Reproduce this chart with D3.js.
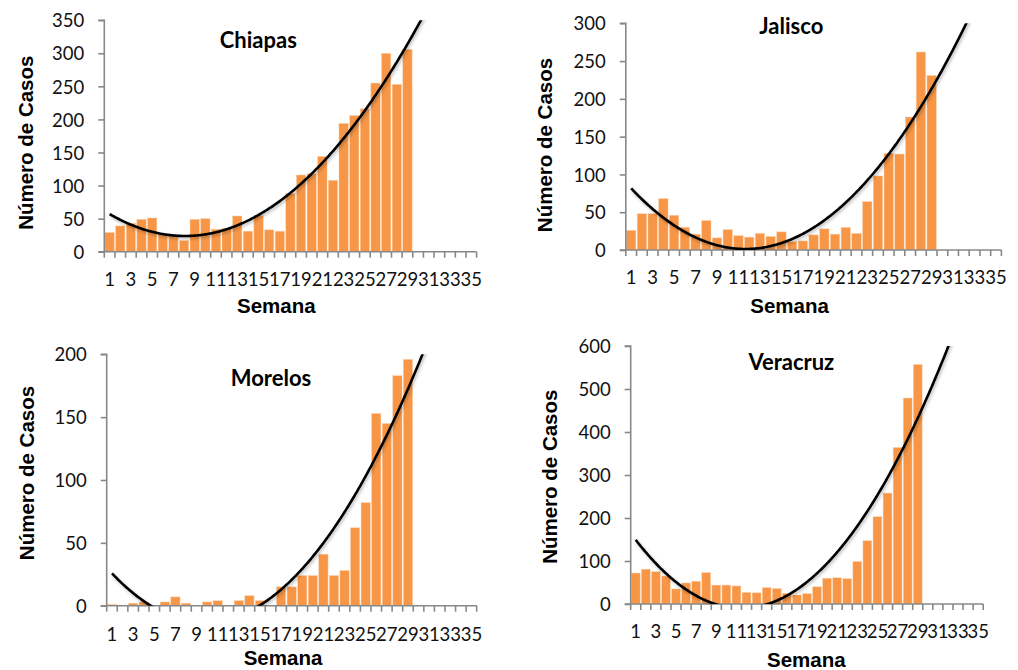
<!DOCTYPE html>
<html><head><meta charset="utf-8">
<script src="https://cdn.jsdelivr.net/npm/d3@7"></script>
<style>body{margin:0;background:#fff}svg{display:block}</style>
</head><body><svg id="c" width="1018" height="670"></svg>
<script>
// ---- data ----
const weeks = [1,2,3,4,5,6,7,8,9,10,11,12,13,14,15,16,17,18,19,20,21,22,23,24,25,26,27,28,29,30,31,32,33,34,35];
const weekLabels = [1,3,5,7,9,11,13,15,17,19,21,23,25,27,29,31,33,35];
const chiapas  = [29,39,43,49,51,26,25,17,49,50,34,35,54,31,55,33,31,88,116,118,144,108,194,206,216,255,300,253,306];
const jalisco  = [26,48,48,68,46,30,21,39,16,27,19,17,22,18,24,11,12,20,28,21,30,22,64,98,128,127,176,262,231];
const morelos  = [1,0,2,3,0,3,7,2,0,3,4,0,4,8,4,0,15,15,24,24,41,24,28,62,82,153,145,183,196];
const veracruz = [72,81,75,65,35,49,53,73,44,44,42,27,26,38,36,25,21,24,40,60,61,59,99,147,203,258,364,479,557];
const chiapasTicks  = [0,50,100,150,200,250,300,350];
const jaliscoTicks  = [0,50,100,150,200,250,300];
const morelosTicks  = [0,50,100,150,200];
const veracruzTicks = [0,100,200,300,400,500,600];
const titles = ["Chiapas","Jalisco","Morelos","Veracruz"];
const yTitle = "Número de Casos";
const xTitle = "Semana";

// ---- layout ----
const layout = [
  {values:chiapas, ticks:chiapasTicks, x0:104.3, x1:476.6, yT:20.2, yB:251.7, tX:258.3, tY:48.3, ylX:33, ylY:142.7, sX:276.3, sY:313, lY:286},
  {values:jalisco, ticks:jaliscoTicks, x0:625.8, x1:1001.4, yT:23.3, yB:250, tX:791.3, tY:34.3, ylX:551.5, ylY:145, sX:789.6, sY:313.3, lY:284},
  {values:morelos, ticks:morelosTicks, x0:106.7, x1:476.7, yT:354.3, yB:605.7, tX:271, tY:385.7, ylX:34, ylY:473, sX:283, sY:665, lY:640.7},
  {values:veracruz, ticks:veracruzTicks, x0:630.7, x1:983.2, yT:346, yB:604, tX:791.3, tY:370, ylX:557, ylY:476.7, sX:806.3, sY:666.7, lY:638.3}
];

const svg = d3.select("#c");
const defs = svg.append("defs");
const f = defs.append("filter").attr("id","sh").attr("x","-10%").attr("y","-10%").attr("width","130%").attr("height","130%");
f.append("feDropShadow").attr("dx",1.2).attr("dy",1.8).attr("stdDeviation",1.4).attr("flood-color","#000").attr("flood-opacity",0.28);

function quadFit(ys){
  // least squares y = a + b x + c x^2, x = week number
  const n = ys.length; let S=[0,0,0,0,0], T=[0,0,0];
  ys.forEach((y,i)=>{const x=i+1; let p=1; for(let k=0;k<5;k++){S[k]+=p; if(k<3)T[k]+=y*p; p*=x;}});
  const M=[[S[0],S[1],S[2],T[0]],[S[1],S[2],S[3],T[1]],[S[2],S[3],S[4],T[2]]];
  for(let i=0;i<3;i++){let m=i;for(let r=i+1;r<3;r++)if(Math.abs(M[r][i])>Math.abs(M[m][i]))m=r;[M[i],M[m]]=[M[m],M[i]];
    for(let r=0;r<3;r++){if(r===i)continue;const fct=M[r][i]/M[i][i];for(let c=i;c<4;c++)M[r][c]-=fct*M[i][c];}}
  return [M[0][3]/M[0][0],M[1][3]/M[1][1],M[2][3]/M[2][2]];
}

const axisCol = "#888888";
const fontNum = "Lato, 'Open Sans', sans-serif";
const fontBold = "'Liberation Sans', Arial, sans-serif";

layout.forEach((L,pi)=>{
  const g = svg.append("g");
  const x = d3.scaleBand().domain(weeks).range([L.x0,L.x1]).paddingInner(0.12).paddingOuter(0.06);
  const y = d3.scaleLinear().domain([0, d3.max(L.ticks)]).range([L.yB, L.yT]);
  const step = x.step();

  // bars
  g.selectAll("rect.bar").data(L.values.map((v,i)=>({w:weeks[i],v})).filter(d=>d.v>0))
    .join("rect").attr("class","bar")
    .attr("x",d=>x(d.w)).attr("width",x.bandwidth())
    .attr("y",d=>y(d.v)).attr("height",d=>y(0)-y(d.v))
    .attr("fill","#F79646").attr("stroke","#fbd3ae").attr("stroke-width",0.5);

  // y axis
  const ya = d3.axisLeft(y).tickValues(L.ticks).tickSize(6).tickPadding(14).tickFormat(d3.format("d"));
  const yg = g.append("g").attr("transform",`translate(${L.x0},0)`).call(ya);
  yg.select(".domain").attr("stroke",axisCol).attr("stroke-width",1.6).attr("d",`M-6,${L.yT}H0V${L.yB}`);
  yg.selectAll(".tick line").attr("stroke",axisCol).attr("stroke-width",1.6);
  yg.selectAll(".tick text").attr("font-family",fontNum).attr("font-size",18.5).attr("fill","#111").attr("dy","0.36em");

  // x axis line + boundary ticks
  g.append("line").attr("x1",L.x0-6).attr("x2",L.x1).attr("y1",L.yB).attr("y2",L.yB).attr("stroke",axisCol).attr("stroke-width",1.6);
  const bounds = weeks.map(w=>x(w)-x.paddingInner()*step/2).concat([L.x1]);
  g.selectAll("line.xt").data(bounds).join("line").attr("class","xt")
    .attr("x1",d=>d).attr("x2",d=>d).attr("y1",L.yB).attr("y2",L.yB+6)
    .attr("stroke",axisCol).attr("stroke-width",1.6);
  g.selectAll("text.xl").data(weekLabels).join("text").attr("class","xl")
    .attr("x",d=>x(d)+x.bandwidth()/2).attr("y",L.lY)
    .attr("text-anchor","middle").attr("font-family",fontNum).attr("font-size",18.5).attr("fill","#111")
    .text(d=>d);

  // trend line (2nd order polynomial fit), clipped to plot area
  const [a,b,c] = quadFit(L.values);
  const cid = "clip"+pi;
  defs.append("clipPath").attr("id",cid).append("rect")
    .attr("x",L.x0).attr("y",L.yT).attr("width",L.x1-L.x0).attr("height",L.yB-L.yT);
  const pts = [];
  for(let t=1;t<=35;t+=0.1){pts.push([x(1)+x.bandwidth()/2+(t-1)*step, y(a+b*t+c*t*t)]);}
  g.append("path").attr("clip-path",`url(#${cid})`)
    .attr("d",d3.line()(pts)).attr("fill","none").attr("stroke","#000").attr("stroke-width",2.6)
    .attr("filter","url(#sh)");

  // titles
  g.append("text").attr("x",L.tX).attr("y",L.tY).attr("text-anchor","middle")
    .attr("font-family",fontNum).attr("font-weight","bold").attr("font-size",22).attr("fill","#000").text(titles[pi]);
  g.append("text").attr("transform",`translate(${L.ylX},${L.ylY}) rotate(-90)`).attr("text-anchor","middle")
    .attr("font-family",fontBold).attr("font-weight","bold").attr("font-size",20.5).attr("fill","#000").text(yTitle);
  g.append("text").attr("x",L.sX).attr("y",L.sY).attr("text-anchor","middle")
    .attr("font-family",fontBold).attr("font-weight","bold").attr("font-size",20.5).attr("fill","#000").text(xTitle);
});
</script></body></html>
